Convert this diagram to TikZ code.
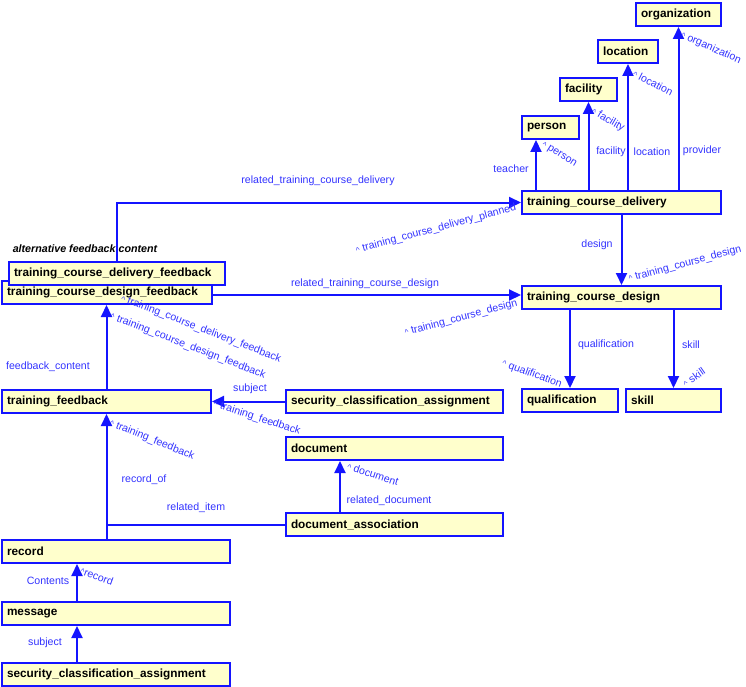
\documentclass[tikz,border=0pt]{standalone}
\usepackage{fontspec}
\setmainfont{Liberation Sans}
\usetikzlibrary{calc,shapes,arrows.meta}
\definecolor{linkblue}{RGB}{20,20,255}
\definecolor{roleblue}{RGB}{50,50,255}
\definecolor{boxfill}{RGB}{255,255,204}
\newcommand{\inv}{{\fontsize{8}{8}\selectfont\textasciicircum}}

\tikzset{
  entity/.style={draw=linkblue, fill=boxfill, line width=2pt, rectangle,
    anchor=north west, minimum height=23pt, inner xsep=5pt, inner ysep=0pt,
    align=left, font=\fontsize{11.8}{13}\selectfont\bfseries},
  link/.style={draw=linkblue, line width=2pt, -{Triangle[length=12pt,width=11pt]}},
  plain/.style={draw=linkblue, line width=2pt},
  role/.style={text=roleblue, inner sep=0pt, font=\fontsize{10.6}{12}\selectfont},
}

\begin{document}
\begin{tikzpicture}[x=1pt,y=-1pt]
    \useasboundingbox (0,0) rectangle (746,687);
    % entities
    \node[entity, text width=75pt] (organization) at (635,2) {organization};
    \node[entity, text width=50pt] (location) at (597,39) {location};
    \node[entity, text width=47pt] (facility) at (559,77) {facility};
    \node[entity, text width=47pt] (person) at (521,115) {person};
    \node[entity, text width=189pt] (tcdelivery) at (521,190) {training\_course\_delivery};
    \node[entity, text width=189pt] (tcdesign) at (521,285) {training\_course\_design};
    \node[entity, text width=86pt] (qualification) at (521,388) {qualification};
    \node[entity, text width=85pt] (skill) at (625,388) {skill};
    \node[entity, text width=200pt] (designfb) at (1,280) {training\_course\_design\_feedback};
    \node[entity, text width=206pt] (deliveryfb) at (8,261) {training\_course\_delivery\_feedback};
    \node[entity, text width=199pt] (trainingfb) at (1,389) {training\_feedback};
    \node[entity, text width=207pt] (secclass) at (285,389) {security\_classification\_assignment};
    \node[entity, text width=207pt] (document) at (285,436) {document};
    \node[entity, text width=207pt] (docassoc) at (285,512) {document\_association};
    \node[entity, text width=218pt] (record) at (1,539) {record};
    \node[entity, text width=218pt] (message) at (1,601) {message};
    \node[entity, text width=218pt] (msgsecclass) at (1,662) {security\_classification\_assignment};
    \node[font=\fontsize{10.7}{12}\selectfont\bfseries\itshape] (altnote) at (85,249) {alternative feedback content};

    % connectors
    \draw[link] ([xshift=15pt]tcdelivery.north west) -- ([xshift=15pt]person.south west);
    \draw[link] (facility.south |- tcdelivery.north) -- (facility.south);
    \draw[link] (location.south |- tcdelivery.north) -- (location.south);
    \draw[link] (organization.south |- tcdelivery.north) -- (organization.south);
    \draw[link] (deliveryfb.north) |- (tcdelivery.west);
    \draw[link] (tcdelivery.south) -- (tcdesign.north);
    \draw[link] ([yshift=-2.5pt]designfb.east) -- ([yshift=-2.5pt]designfb.east -| tcdesign.west);
    \draw[link] (tcdesign.south -| qualification.north) -- (qualification.north);
    \draw[link] (tcdesign.south -| skill.north) -- (skill.north);
    \draw[link] (trainingfb.north) -- (trainingfb.north |- designfb.south);
    \draw[link] (secclass.west) -- (trainingfb.east);
    \draw[link] (record.north -| trainingfb.south) -- (trainingfb.south);
    \draw[plain] (docassoc.west) -- (docassoc.west -| trainingfb.south);
    \draw[link] ([xshift=55pt]docassoc.north west) -- ([xshift=55pt]document.south west);
    \draw[link] ([xshift=76pt]message.north west) -- ([xshift=76pt]record.south west);
    \draw[link] ([xshift=76pt]msgsecclass.north west) -- ([xshift=76pt]message.south west);

    % role names
    \node[role] (lteacher) at (511,169) {teacher};
    \node[role, rotate=-32] (lperson) at (559,155) {\inv{} person};
    \node[role] (lfacility) at (611,152) {facility};
    \node[role, rotate=-30] (lfacilityinv) at (608,120) {\inv{} facility};
    \node[role] (llocation) at (652,152) {location};
    \node[role, rotate=-27] (llocationinv) at (653,83) {\inv{} location};
    \node[role] (lprovider) at (702,151) {provider};
    \node[role, rotate=-24] (lorganization) at (711,48) {\inv{} organization};
    \node[role] (lreldelivery) at (318,181) {related\_training\_course\_delivery};
    \node[role, rotate=15] (lplanned) at (436,229) {\inv{} training\_course\_delivery\_planned};
    \node[role] (ldesign) at (597,245) {design};
    \node[role, rotate=15] (ldesigninv) at (685,264) {\inv{} training\_course\_design};
    \node[role] (lreldesign) at (365,284) {related\_training\_course\_design};
    \node[role, rotate=15] (ldesignfbinv) at (461,318) {\inv{} training\_course\_design};
    \node[role] (lqual) at (606,345) {qualification};
    \node[role, rotate=-20] (lqualinv) at (532,374) {\inv{} qualification};
    \node[role] (lskill) at (691,345) {skill};
    \node[role, rotate=35] (lskillinv) at (694,377) {\inv{} skill};
    \node[role] (lcontent) at (48,367) {feedback\_content};
    \node[role, rotate=-21] (ldelivfbinv) at (201,329) {\inv{} training\_course\_delivery\_feedback};
    \node[role, rotate=-21] (ldesfbinv) at (188,346) {\inv{} training\_course\_design\_feedback};
    \node[role] (lsubject) at (250,389) {subject};
    \node[role, rotate=-18] (ltfinva) at (257,418) {\inv{} training\_feedback};
    \node[role, rotate=-22] (ltfinvb) at (152,440) {\inv{} training\_feedback};
    \node[role] (lrecordof) at (144,480) {record\_of};
    \node[role] (lrelitem) at (196,508) {related\_item};
    \node[role, rotate=-18] (ldocinv) at (373,474) {\inv{} document};
    \node[role] (lreldoc) at (389,501) {related\_document};
    \node[role] (lcontents) at (48,581) {Contents};
    \node[role, rotate=-20] (lrecordinv) at (97,576) {\inv{}record};
    \node[role] (lsubjectb) at (45,643) {subject};
\end{tikzpicture}
\end{document}
